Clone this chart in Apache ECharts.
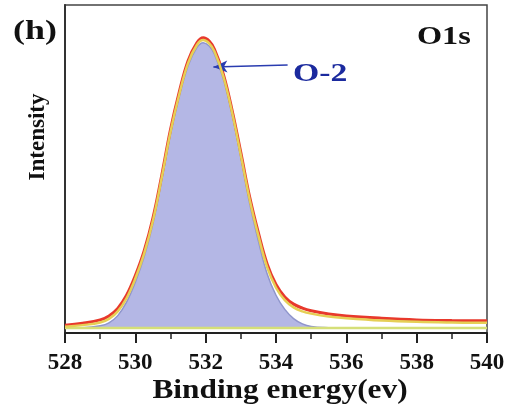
<!DOCTYPE html>
<html><head><meta charset="utf-8">
<script src="https://cdn.jsdelivr.net/npm/echarts@6/dist/echarts.min.js"></script>
<style>html,body{margin:0;padding:0;background:#fff}#c{width:512px;height:404px}</style>
</head><body><div id="c"></div>
<script>
const energies = [528,528.5,529,529.25,529.5,529.75,530,530.25,530.5,530.75,531,531.25,531.5,531.75,531.93,532.1,532.25,532.5,532.75,533,533.25,533.5,533.75,534,534.25,534.5,534.75,535,535.5,536,537,538,539,540];
const envelope = [2.4,3.0,4.0,5.2,7.5,11.5,17.5,25,35,48,62,73.5,83,88.5,90,89,86.5,79,68,55,41.5,30.5,21,14.8,11,8.8,7.6,6.8,5.8,5.2,4.5,4.0,3.8,3.7];
const fitSum  = [1.9,2.4,3.2,4.3,6.6,10.6,16.6,24.2,34.2,47.3,61.3,72.8,82.3,87.8,89.3,88.3,85.8,78.3,67.3,54.2,40.7,29.6,20,13.8,10,7.8,6.6,5.9,5.0,4.5,3.8,3.4,3.2,3.1];
const o2Peak  = [1.5,1.6,2.2,3.1,5.3,9.4,15.5,23.2,33.3,46.5,60.5,72,81.5,87,88.5,87.5,85,77.5,66.5,53.3,39.5,28,18,11.5,7.2,4.4,2.8,2.0,1.6,1.5,1.5,1.5,1.5,1.5];
const baselineE = [528,540];
const baselineV = [1.5,1.5];
const xTicks = [528,530,532,534,536,538,540];
const xTitle = 'Binding energy(ev)';
const yTitle = 'Intensity';

const zip = (a,b)=>a.map((v,i)=>[v,b[i]]);
const serif = '"Liberation Serif","DejaVu Serif",serif';
const chart = echarts.init(document.getElementById('c'));
chart.setOption({
  animation:false,
  grid:{left:65,right:25,top:5,bottom:71,show:true,borderColor:'#444',borderWidth:1.5},
  xAxis:{type:'value',min:xTicks[0],max:xTicks[xTicks.length-1],interval:2,
    axisLine:{show:true,lineStyle:{color:'#222',width:2}},
    axisTick:{show:true,length:10,lineStyle:{color:'#222',width:2}},
    minorTick:{show:true,splitNumber:2,length:6,lineStyle:{color:'#222',width:1.5}},
    splitLine:{show:false},
    axisLabel:{fontFamily:serif,fontWeight:'bold',fontSize:23,color:'#111',margin:19}},
  yAxis:{type:'value',min:0,max:100,
    axisLine:{show:true,lineStyle:{color:'#333',width:2}},
    axisTick:{show:false},axisLabel:{show:false},splitLine:{show:false}},
  series:[
    {type:'line',data:zip(baselineE,baselineV),symbol:'none',lineStyle:{color:'#d5df78',width:2.5},z:3},
    {type:'line',data:zip(energies,o2Peak),smooth:0.4,symbol:'none',
      lineStyle:{color:'#8f95cc',width:1.5},
      areaStyle:{color:'#b4b7e5',opacity:1,origin:1.5},z:2,
      markLine:{silent:true,symbol:['none','arrow'],symbolSize:[9,14],
        label:{show:false},
        lineStyle:{color:'#2a3cb0',width:1.5,type:'solid'},
        data:[[{coord:[534.33,81.7]},{coord:[532.22,81.1]}]]}},
    {type:'line',data:zip(energies,envelope),smooth:0.4,symbol:'none',lineStyle:{color:'#e8392c',width:3},z:4},
    {type:'line',data:zip(energies,fitSum),smooth:0.4,symbol:'none',lineStyle:{color:'#e6cf55',width:2.5},z:5}
  ],
  graphic:[
    {type:'text',x:13,y:19,scaleX:1.33,style:{text:'(h)',font:'bold 27px '+serif,fill:'#111',align:'left',verticalAlign:'top'}},
    {type:'text',x:417,y:25,scaleX:1.29,style:{text:'O1s',font:'bold 25px '+serif,fill:'#111',align:'left',verticalAlign:'top'}},
    {type:'text',x:293,y:62,scaleX:1.35,style:{text:'O-2',font:'bold 25px '+serif,fill:'#1b2a9e',align:'left',verticalAlign:'top'}},
    {type:'text',x:38,y:137,rotation:Math.PI/2,style:{text:yTitle,font:'bold 23px '+serif,fill:'#111',align:'center',verticalAlign:'middle'}},
    {type:'text',x:280,y:391,scaleX:1.12,style:{text:xTitle,font:'bold 28px '+serif,fill:'#111',align:'center',verticalAlign:'middle'}}
  ]
});
</script></body></html>
